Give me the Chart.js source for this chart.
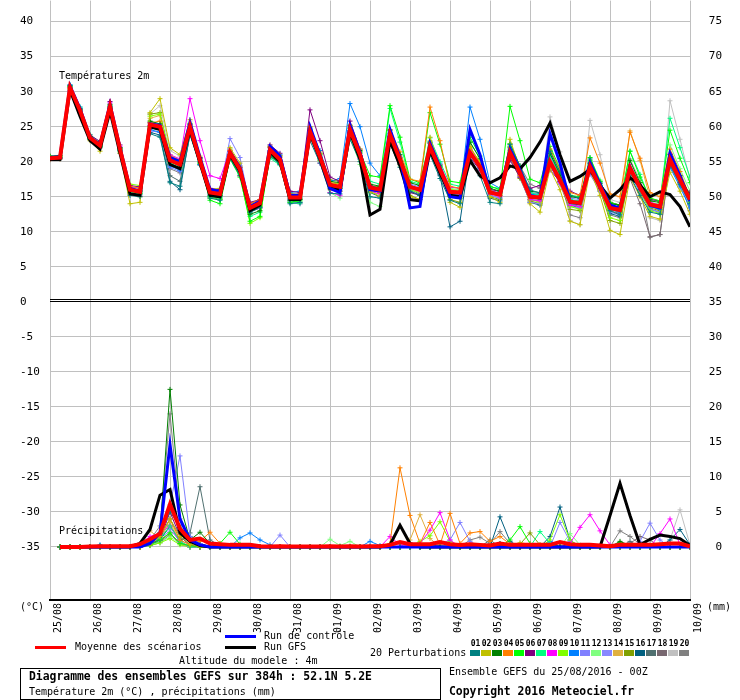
<!DOCTYPE html>
<html>
<head>
<meta charset="utf-8">
<script src="https://cdn.jsdelivr.net/npm/chart.js@4.4.1/dist/chart.umd.min.js"></script>
<style>
  body { margin: 0; background: #fff; }
  #wrap { position: relative; width: 740px; height: 700px; overflow: hidden; font-family: "DejaVu Sans Mono", monospace; color: #000; }
  #wrap canvas { position: absolute; left: 0; top: -6px; }
  .t { position: absolute; font-size: 10px; line-height: 12px; white-space: nowrap; }
  .b { font-weight: bold; font-size: 11.4px; line-height: 13px; }
  .ln { position: absolute; height: 3px; width: 31px; }
  #box { position: absolute; left: 20px; top: 668px; width: 419px; height: 30px; border: 1px solid #000; }
  #swatches { position: absolute; left: 470px; top: 639px; display: flex; }
  #swatches div { width: 11px; text-align: center; font-size: 8px; line-height: 10px; font-weight: bold; }
  #swatches span { display: block; width: 10px; height: 6px; margin-top: 1px; }
</style>
</head>
<body>
<div id="wrap">
  <canvas id="ensChart" width="740" height="706"></canvas>
  <div class="t" style="left:59px;top:70px">Températures 2m</div>
  <div class="t" style="left:59px;top:525px">Précipitations</div>
  <div class="t" style="left:20px;top:601px">(°C)</div>
  <div class="t" style="left:707px;top:601px">(mm)</div>
  <div class="ln" style="left:35px;top:646px;background:#ff0000"></div>
  <div class="t" style="left:75px;top:641px">Moyenne des scénarios</div>
  <div class="ln" style="left:225px;top:635px;background:#0000ff"></div>
  <div class="t" style="left:264px;top:630px">Run de contrôle</div>
  <div class="ln" style="left:225px;top:646px;background:#000000"></div>
  <div class="t" style="left:264px;top:641px">Run GFS</div>
  <div class="t" style="left:179px;top:655px">Altitude du modele : 4m</div>
  <div class="t" style="left:370px;top:647px">20 Perturbations</div>
  <div id="swatches"></div>
  <div id="box"></div>
  <div class="t b" style="left:29px;top:670px">Diagramme des ensembles GEFS sur 384h : 52.1N 5.2E</div>
  <div class="t" style="left:29px;top:686px">Température 2m (°C) , précipitations (mm)</div>
  <div class="t" style="left:449px;top:666px">Ensemble GEFS du 25/08/2016 - 00Z</div>
  <div class="t b" style="left:449px;top:685px">Copyright 2016 Meteociel.fr</div>
</div>
<script>
// time axis (hours since 25/08 00Z) and day labels
var tempHours = [0,6,12,18,24,30,36,42,48,54,60,66,72,78,84,90,96,102,108,114,120,126,132,138,144,150,156,162,168,174,180,186,192,198,204,210,216,222,228,234,240,246,252,258,264,270,276,282,288,294,300,306,312,318,324,330,336,342,348,354,360,366,372,378,384];
var rainHours = tempHours.slice(1);
var dayHours = [0,24,48,72,96,120,144,168,192,216,240,264,288,312,336,360,384];
var dayLabels = ['25/08','26/08','27/08','28/08','29/08','30/08','31/08','01/09','02/09','03/09','04/09','05/09','06/09','07/09','08/09','09/09','10/09'];
var leftTicks = [-35,-30,-25,-20,-15,-10,-5,0,5,10,15,20,25,30,35,40];
var rightTicks = [0,5,10,15,20,25,30,35,40,45,50,55,60,65,70,75];

var pertNames = ['01','02','03','04','05','06','07','08','09','10','11','12','13','14','15','16','17','18','19','20'];
var pertColors = ['#008080','#c0c000','#008000','#ff8000','#00ff00','#800080','#00ff80','#ff00ff','#80ff00','#0080ff',
                  '#8080ff','#80ff80','#8888ff','#e0b040','#80a000','#006080','#507070','#786870','#c0c0c0','#808080'];

// 2m temperature (°C), every 6h
var tempMean = [20.5,20.6,30.6,27.3,23.4,22.3,27.9,21.8, 16.0,15.7,25.3,25.0,20.2,19.6,25.0,20.2, 15.6,15.4,21.3,18.9,13.4,14.1,21.7,20.3,
  14.9,14.9,24.3,20.7,16.7,16.4,24.6,21.0, 16.3,16.0,23.9,20.3,16.4,16.0,22.1,18.9, 15.7,15.6,21.3,19.3,15.6,15.3,21.3,18.4,
  15.0,14.9,20.0,17.4,14.3,14.1,19.3,16.4, 13.4,13.1,19.1,16.3,13.9,13.6,20.3,17.4, 14.6];
var tempControl = [20.6,20.7,30.8,27.6,23.5,22.4,28.2,22.0, 16.2,15.8,25.4,25.2,20.6,20.0,25.6,20.6, 16.0,15.8,21.4,19.2,13.6,14.4,22.2,20.8,
  15.2,15.2,25.0,21.0,16.2,15.6,25.2,21.4, 16.0,15.8,24.6,20.6,13.4,13.6,22.6,19.2, 15.0,14.8,24.6,21.0,15.6,15.4,21.8,18.8,
  15.2,14.8,24.0,19.8,14.2,14.0,19.8,16.8, 13.8,13.4,19.2,16.2,13.8,13.4,21.2,18.0, 14.4];
var tempGfs = [20.3,20.3,30.2,26.5,23.0,21.8,27.2,21.2, 15.4,15.2,25.0,24.6,19.6,19.0,24.6,19.8, 15.2,15.0,21.0,18.6,13.0,13.8,21.4,20.0,
  14.6,14.6,24.0,20.4,16.2,16.0,24.2,20.4, 12.4,13.2,23.0,19.4,14.6,14.4,21.6,18.4, 15.2,15.0,20.2,18.0,17.0,17.7,19.4,19.0,
  20.6,22.8,25.5,21.0,17.2,17.9,18.9,16.6, 14.8,16.0,17.7,16.7,15.0,15.7,15.3,13.6, 10.7];

var temp01 = [20.4,20.5,30.9,27.6,23.2,22.0,27.5,21.5, 15.2,15.0,24.0,23.5,17.0,16.5,23.8,19.5, 14.8,14.5,20.5,18.0,12.8,13.5,20.8,19.6,
  14.0,14.2,23.0,19.8,15.5,15.4,23.2,20.0, 15.0,14.8,22.6,19.2,15.8,15.2,21.0,17.6, 14.5,14.0,20.2,18.0,14.2,14.0,22.5,19.4,
  16.0,15.5,21.5,18.5,15.2,14.8,20.4,17.0, 13.0,12.4,18.0,15.2,12.8,12.5,19.5,16.8, 14.0];
var temp02 = [20.6,20.7,30.4,27.0,23.0,21.5,27.0,21.2, 14.0,14.2,27.0,29.0,22.0,21.0,26.0,20.8, 16.0,16.2,22.0,19.8,13.0,13.8,22.2,20.9,
  15.5,15.2,25.0,21.2,17.0,16.8,25.2,21.8, 15.8,15.0,24.5,20.6,15.0,14.6,23.5,19.2, 14.2,13.5,22.0,20.0,15.0,14.2,23.2,19.0,
  14.0,12.8,19.0,16.0,11.5,11.0,18.8,15.2, 10.2,9.6,17.8,15.0,12.2,11.8,18.5,15.8, 12.5];
var temp03 = [20.8,20.9,30.8,27.5,23.6,22.6,28.2,22.0, 16.2,15.8,25.8,25.4,20.5,19.8,25.4,20.5, 15.8,15.2,21.0,18.6,12.5,13.0,21.0,19.8,
  14.5,14.6,24.8,21.2,17.2,17.0,25.2,21.6, 16.8,16.5,24.5,21.0,17.0,16.6,22.8,19.4, 15.0,14.8,22.8,20.4,16.2,15.8,22.0,19.0,
  15.8,15.6,21.2,18.2,15.0,14.8,19.8,16.9, 14.0,13.8,20.2,17.0,14.4,14.2,21.0,18.0, 15.2];
var temp04 = [20.3,20.4,30.5,27.2,23.5,22.4,27.8,21.9, 16.5,16.2,25.5,25.8,20.8,20.2,25.2,20.4, 15.9,15.8,21.6,19.2,14.0,14.6,22.0,20.6,
  15.2,15.4,23.8,20.2,16.0,15.8,24.0,20.6, 16.0,15.6,24.6,21.4,17.5,17.2,27.8,23.0, 16.5,16.2,22.2,19.8,15.8,15.2,21.0,18.0,
  15.2,15.0,21.8,18.8,15.6,15.2,23.4,19.8, 15.4,15.0,24.2,20.5,15.6,15.0,21.8,18.6, 15.0];
var temp05 = [20.7,20.8,30.7,27.4,23.3,22.2,27.7,21.7, 15.8,15.5,25.0,24.8,20.0,19.4,24.6,19.8, 14.5,14.0,20.4,17.8,11.5,12.2,20.8,19.8,
  14.2,14.4,24.0,20.5,16.5,16.2,24.8,21.4, 18.0,17.8,28.0,23.5,17.5,17.0,27.0,22.5, 17.2,17.0,23.5,20.8,16.5,16.0,27.9,23.0,
  17.5,17.0,22.2,19.0,15.2,15.0,20.6,17.2, 14.2,13.8,21.5,17.8,14.8,14.4,24.5,20.5, 17.0];
var temp06 = [20.5,20.6,30.2,27.0,23.8,22.9,28.6,22.4, 16.6,16.4,25.6,25.2,20.6,20.0,25.3,20.6, 16.2,16.0,21.5,19.2,14.2,14.6,22.4,21.2,
  15.8,15.6,27.4,23.0,17.8,17.2,25.8,21.8, 16.6,16.2,23.2,19.6,15.6,15.2,21.4,18.2, 15.2,15.0,20.6,18.8,16.0,15.8,20.2,17.8,
  16.2,16.6,18.8,17.2,15.8,15.2,18.5,16.2, 14.2,13.8,18.6,16.0,14.6,14.4,19.8,17.0, 15.6];
var temp07 = [20.6,20.7,30.9,27.8,23.9,22.7,28.0,22.0, 15.6,15.4,24.8,24.6,19.8,19.2,24.8,20.0, 15.0,14.8,20.8,18.2,12.2,12.8,20.5,19.5,
  14.2,14.0,23.5,20.2,16.8,16.6,24.5,21.2, 17.2,16.8,27.6,22.8,17.2,16.8,23.4,20.0, 16.8,16.5,22.8,20.5,16.4,16.2,22.2,19.0,
  15.6,15.2,21.0,18.0,14.6,14.4,20.2,17.2, 14.0,13.8,21.5,18.2,14.6,14.4,26.2,22.0, 17.8];
var temp08 = [20.4,20.5,30.6,27.4,23.6,22.5,28.4,22.2, 16.4,16.2,25.2,24.8,21.0,20.4,29.0,23.0, 18.0,17.6,21.6,18.0,13.0,13.4,21.0,19.6,
  14.2,14.0,23.6,19.8,15.6,15.2,24.2,20.5, 15.8,15.4,23.6,20.0,16.2,15.8,22.6,19.6, 16.4,16.2,21.8,19.6,15.4,15.0,21.0,18.2,
  14.6,14.4,19.8,17.0,13.8,13.6,19.0,16.4, 13.8,13.4,19.6,16.8,14.2,13.8,21.2,18.0, 15.0];
var temp09 = [20.5,20.6,30.7,27.5,23.2,22.0,27.6,21.4, 16.8,16.6,26.5,26.8,21.0,20.2,25.5,20.4, 14.8,14.6,20.6,18.0,11.2,12.0,21.2,20.0,
  15.0,14.8,24.6,21.0,16.8,16.4,24.2,20.8, 15.6,15.4,23.0,19.6,16.0,15.6,22.6,19.6, 16.0,15.8,22.0,19.8,15.8,15.4,22.6,19.4,
  14.6,14.2,21.6,18.6,13.6,13.2,19.6,16.4, 12.0,11.6,18.6,15.8,13.0,12.6,20.0,17.2, 14.2];
var temp10 = [20.6,20.8,31.0,27.8,23.6,22.4,27.9,21.9, 16.0,15.8,24.6,24.2,19.4,18.8,24.0,19.6, 15.2,15.0,21.0,18.6,13.2,14.0,22.0,21.0,
  15.6,15.8,24.6,21.6,17.2,17.6,28.3,25.0, 19.8,18.0,24.0,20.6,16.6,16.2,22.8,19.8, 15.4,15.2,27.8,23.2,17.0,16.2,22.5,19.2,
  15.4,15.2,21.0,18.2,14.6,14.2,19.8,16.8, 13.2,12.8,18.8,16.0,13.6,13.2,19.2,16.4, 13.4];
var temp11 = [20.4,20.5,30.8,27.6,23.2,22.0,27.3,21.2, 15.4,15.2,24.4,24.2,19.2,18.6,24.6,20.0, 16.2,16.0,23.3,20.6,13.8,14.2,21.4,19.8,
  14.6,14.8,24.0,20.4,16.4,16.0,23.8,20.4, 16.0,15.8,24.2,20.8,16.8,16.4,22.0,18.8, 15.8,15.6,20.8,19.0,15.8,15.6,21.8,18.8,
  15.6,15.4,20.6,18.0,14.8,14.6,18.2,15.8, 13.6,13.2,18.6,15.8,14.0,13.8,21.0,18.0, 14.8];
var temp12 = [20.6,20.7,30.3,27.1,23.4,22.3,28.1,22.0, 15.8,15.4,25.0,24.6,19.8,19.0,24.4,19.8, 15.0,14.8,21.0,18.8,13.0,13.6,21.2,19.8,
  14.4,14.6,23.8,20.0,15.6,14.8,23.6,19.6, 14.2,13.6,22.6,19.4,16.0,15.6,22.6,19.4, 16.2,16.0,21.6,19.6,15.6,15.4,21.6,18.6,
  15.6,15.4,20.4,17.6,14.0,13.8,20.6,17.4, 13.6,13.4,20.0,17.0,14.2,14.0,22.4,19.0, 15.8];
var temp13 = [20.5,20.6,30.4,27.2,23.3,22.2,27.8,21.8, 16.2,15.9,25.4,25.2,20.4,19.8,25.2,20.4, 15.4,15.2,21.2,18.8,13.6,14.2,21.6,20.2,
  15.0,15.0,24.2,20.6,16.6,16.2,24.4,20.8, 16.2,15.8,23.8,20.2,16.2,15.8,21.6,18.4, 15.4,15.2,21.0,19.0,15.2,14.8,20.8,17.8,
  14.2,14.0,19.4,16.8,13.6,13.4,18.6,15.8, 12.8,12.4,18.4,15.6,13.2,12.8,19.4,16.6, 13.8];
var temp14 = [20.4,20.6,30.5,27.4,23.5,22.4,28.0,22.0, 16.0,15.8,26.2,26.6,20.8,20.0,25.0,20.2, 15.6,15.6,21.4,19.0,13.6,14.4,22.0,20.8,
  15.4,15.4,25.0,21.4,17.2,16.8,24.8,21.2, 16.4,16.0,24.0,20.4,16.4,16.2,23.0,19.6, 16.0,16.0,21.6,19.4,15.6,15.4,21.6,18.8,
  15.4,15.2,20.6,17.8,14.4,14.2,20.2,17.2, 14.2,13.8,24.4,20.2,14.8,14.4,19.8,17.0, 14.4];
var temp15 = [20.5,20.5,30.6,27.2,23.3,22.2,27.8,21.8, 15.4,15.0,26.8,27.0,20.6,19.8,24.6,19.8, 15.2,15.0,21.8,19.4,14.0,14.6,22.2,20.8,
  15.2,15.0,24.4,21.0,17.4,17.2,24.8,21.4, 16.6,16.4,23.2,19.8,15.2,14.6,21.6,18.6, 14.6,14.2,21.2,19.4,15.0,14.6,20.6,17.6,
  14.4,14.0,19.6,16.8,13.2,13.0,18.8,16.0, 11.6,11.2,18.6,15.8,13.4,13.0,19.6,16.8, 14.0];
var temp16 = [20.3,20.4,30.6,27.4,23.4,22.2,27.6,21.6, 15.6,15.4,24.2,23.8,17.2,16.0,24.0,19.6, 15.0,14.6,20.8,18.4,12.8,13.4,21.2,19.8,
  14.4,14.2,24.0,20.4,16.2,15.8,24.0,20.4, 15.6,15.0,23.4,19.8,15.8,15.2,21.4,18.0, 10.7,11.5,21.2,19.0,14.8,14.4,20.8,18.0,
  14.2,13.8,19.6,17.0,13.8,13.4,18.8,15.8, 12.6,12.2,18.4,15.6,13.2,12.8,20.2,17.2, 14.2];
var temp17 = [20.5,20.6,30.5,27.3,23.4,22.3,27.9,21.8, 15.8,15.6,25.0,24.6,18.0,17.2,24.4,20.0, 15.4,15.2,21.0,18.6,13.2,14.0,21.4,20.0,
  14.8,14.8,24.2,20.6,16.6,16.2,24.2,20.6, 16.0,15.6,23.4,19.8,16.0,15.4,21.6,18.4, 15.4,15.2,21.0,19.0,15.2,14.8,20.6,17.8,
  14.6,14.4,19.8,17.2,14.0,13.8,19.0,16.2, 13.2,12.8,18.8,16.0,13.6,13.2,20.0,17.2, 14.4];
var temp18 = [20.6,20.6,30.6,27.3,23.3,22.2,27.8,21.8, 16.0,15.8,25.2,24.9,20.0,19.4,24.8,20.0, 15.4,15.2,21.2,18.8,13.2,14.0,21.6,20.2,
  14.8,14.8,24.2,20.6,16.6,16.4,24.4,20.8, 16.2,15.8,23.6,20.0,16.2,15.8,22.0,18.8, 15.6,15.4,21.2,19.2,15.4,15.2,21.2,18.2,
  14.8,14.6,19.8,17.2,14.0,13.6,18.8,16.0, 13.0,12.6,17.6,14.0,9.3,9.6,20.4,17.6, 14.8];
var temp19 = [20.5,20.5,30.4,27.1,23.2,22.1,27.7,21.7, 15.6,15.4,26.8,28.0,21.6,20.8,25.8,20.6, 15.6,15.4,21.0,18.6,13.2,13.8,21.4,20.0,
  14.8,14.6,24.0,20.6,16.4,16.2,24.4,20.8, 16.0,15.6,23.6,20.0,16.0,15.6,22.4,19.2, 15.8,15.6,21.8,19.8,15.6,15.2,22.4,19.2,
  14.4,14.0,26.4,21.4,11.6,11.0,25.9,21.0, 14.6,14.2,20.4,17.4,12.0,11.6,28.7,23.2, 17.4];
var temp20 = [20.4,20.5,30.6,27.4,23.3,22.2,27.9,21.9, 16.2,16.0,25.2,24.6,19.0,18.4,24.6,20.0, 15.0,14.8,21.0,18.6,13.0,13.6,21.4,20.0,
  14.6,14.6,24.4,20.8,16.6,16.2,24.4,20.6, 16.0,15.6,23.6,20.0,16.4,16.0,22.2,18.8, 16.4,16.2,21.4,19.2,15.4,15.2,22.2,19.4,
  16.8,16.2,20.6,17.6,12.4,12.0,19.8,16.4, 12.4,12.0,19.6,16.4,9.2,9.6,20.0,17.2, 13.0];

// 6h precipitation (mm), from +6h to +384h
var rainMean = [0,0,0,0.05,0.1,0.1,0.1,0.1, 0.4,1.1,1.9,6.1,2.6,1.0,1.2,0.5, 0.4,0.3,0.3,0.3,0.1,0.05,0.1,0.05,
  0.05,0.05,0.05,0.1,0.05,0.1,0.05,0.1, 0.1,0.3,0.7,0.4,0.4,0.4,0.7,0.4, 0.3,0.4,0.3,0.2,0.5,0.3,0.3,0.3,
  0.3,0.3,0.7,0.4,0.3,0.3,0.2,0.1, 0.3,0.3,0.3,0.3,0.4,0.5,0.5,0.1];
var rainControl = [0,0,0,0,0,0,0,0, 0,0.5,2.0,14.6,4.0,1.0,0.3,0, 0,0,0,0,0,0,0,0, 0,0,0,0,0,0,0,0,
  0,0,0,0,0,0,0,0, 0,0,0,0,0,0,0,0, 0,0,0,0,0,0,0,0, 0,0,0,0,0,0,0,0];
var rainGfs = [0,0,0,0,0,0,0,0, 0.5,2.5,7.4,8.2,2.0,0.8,0.2,0, 0,0,0,0,0,0,0,0, 0,0,0,0,0,0,0,0,
  0,0.3,3.1,0.5,0,0,0,0, 0,0,0,0,0,0,0,0, 0,0,0,0,0,0,0,4.5, 9.1,4.5,0.3,1.1,1.7,1.5,1.2,0.2];

var rain01 = [0,0,0,0,0.2,0,0,0, 0.3,0.8,2.0,5.0,3.0,1.0,0.3,0, 0,0,0,0,0,0,0,0, 0,0,0,0,0,0,0,0,
  0,0,0,0,0,0,0,0, 0,0,0,0,0.5,0,0,0, 0,0,0,0,0,0,0,0, 0,0,0,0,0,0,0,0];
var rain02 = [0,0,0,0,0,0,0,0, 0,0.5,1.5,4.0,1.5,0.4,0,0, 0,0,0,0,0,0,0,0, 0,0,0,0,0,0,0,0,
  0,0,0,0,0,0,0,0, 0,0,0,0,0,0,0.6,0.4, 0.3,0,0,0,0,0,0,0, 0,0,0,0,0,0,0,0];
var rain03 = [0,0,0,0,0,0,0,0, 0.2,0.6,2.0,22.5,6.0,1.0,2.1,0.5, 0,0,0,0,0,0,0,0, 0,0,0,0,0,0,0,0,
  0,0,0,0,0,0,0,0, 0,0,0,0,0,0,0,0, 0,0,0,0,0,0,0,0, 0.8,0.2,0,0,0,0,0,0];
var rain04 = [0,0,0,0,0,0,0,0, 0,0.4,1.5,4.0,1.0,0.3,0.8,2.1, 0.5,0,0,0,0,0,0,0, 0,0,0,0,0,0,0,0,
  0,0.5,11.3,4.5,0.5,3.5,0.3,4.8, 0.5,2.0,2.2,0.8,1.5,0.4,0,0, 0,0,0,0,0,0,0,0, 0,0,0.3,0,0,0,0,0];
var rain05 = [0,0,0,0,0,0,0,0, 0,0.3,1.0,2.0,0.5,0.2,0,0, 0.5,2.1,0.4,0,0,0,0,0, 0,0,0,0,0,0,0,0,
  0,0,0,0,0,0,0,0, 0,0,0,0,0,1.0,2.9,0.5, 0,0,0,0,0,0,0,0, 0,0,0,0,0,0,0,0];
var rain06 = [0,0,0,0,0,0,0,0, 0,0.5,1.0,5.0,1.5,0.3,0,0, 0,0,0,0,0,0,0,0, 0,0,0,0,0,0,0,0,
  0,0,0,0,0,0,0,0, 0,0,0,0,0,0,0,0, 0,0,0,0,0,0,0,0, 0,0,0,0,0,0,0,0];
var rain07 = [0,0,0,0,0,0,0,0, 0,0.4,1.2,3.0,0.8,0,0,0, 0,0,0,0,0,0,0,0, 0,0,0,0,0,0,0,0,
  0,0,0,0,0,0,0,0, 0,0,0,0,0,0,0,0, 2.2,0.5,0,0,0,0,0,0, 0,0,0,0,0,0,0,0];
var rain08 = [0,0,0,0,0,0,0,0, 0.4,1.5,2.0,3.0,0.6,0,0,0, 0,0,0,0,0,0,0,0, 0,0,0,0,0,0,0,0,
  0,1.5,0.3,0.2,0.5,2.4,4.9,1.0, 0,0,0,0,0,0,0,0, 0,0,0,0.5,2.8,4.6,2.3,0.3, 0,0,0,0,1.9,4.0,0.3,0];
var rain09 = [0,0,0,0,0,0,0,0, 0,0.2,0.6,1.2,0.3,0,0,0, 0,0,0,0,0,0,0,0, 0,0,0,0,0,0,0,0,
  0,0,0,0,0.8,1.6,3.6,0.8, 0,0,0,0,0.5,0,0,0, 0,1.0,4.6,1.0,0,0,0,0, 0,0,0,0,0,0,0,0];
var rain10 = [0,0,0,0,0.3,0,0,0, 0.2,0.8,1.5,4.0,1.5,0.3,0,0, 0,0,1.3,2.0,1.0,0.3,0,0, 0,0,0,0,0,0,0,0.8,
  0.2,0,0,0,0,0,0,0, 0,0,0,0,0,0,0,0, 0,0.8,0,0,0,0,0,0, 0,0,0,0,0,0,0,0];
var rain11 = [0,0,0,0,0,0,0,0, 0,0.4,1.5,6.0,13.0,1.5,0.5,0, 0,0,0,0,0,0,1.7,0, 0,0,0,0,0,0,0,0,
  0,0,0,0,0,0,0.4,1.0, 3.5,0.8,0,0,0,0,0,0, 0,0,3.5,0.8,0,0,0,0, 0,0,0.8,3.4,1.0,0,0,0];
var rain12 = [0,0,0,0,0,0,0,0, 0,0.3,0.6,1.5,0.4,0,0,0, 0,0,0,0,0,0,0,0, 0,0,0,1.1,0.2,0.8,0,0,
  0,0,0,0,0,0,0,0, 0,0,0,0,0,0,0,0, 0,0,0,1.9,0.3,0,0,0, 0,0,0,0,0,0,0,0];
var rain13 = [0,0,0,0,0,0,0,0, 0,0.2,0.8,2.5,0.8,0,0,0, 0,0,0,0,0,0,0,0, 0,0,0,0,0,0,0,0,
  0,0,0,0,0,0,0,0, 0,0,0,0,0,0,0,0, 0,0,0,0,0,0,0,0, 0,0,0,0,0,0,0,0];
var rain14 = [0,0,0,0,0,0,0,0, 0.5,2.3,1.2,3.5,0.8,0,0,0, 0,0,0,0,0,0,0,0, 0,0,0,0,0,0,0,0,
  0,0,0,1.0,4.6,1.2,0,0, 0,0,0,0,0,0,0,0, 0,0,0,0,0,0,0,0, 0,0,0,0,0,0,0,0];
var rain15 = [0,0,0,0,0,0,0,0, 0,0.3,0.8,2.0,0.5,0,0,0, 0,0,0,0,0,0,0,0, 0,0,0,0,0,0,0,0,
  0,0,0,0,0,0,0,0, 0,0,0,0,0,0,0.4,2.0, 0.3,0,0,0,0,0,0,0, 0.6,0,0,0,0,0,0,0];
var rain16 = [0,0,0,0,0,0,0,0, 0,0.3,1.0,3.0,1.0,1.5,0.5,0, 0,0,0,0,0,0,0,0, 0,0,0,0,0,0,0,0,
  0,0,0,0,0,0,0,0, 0,0,0,0,4.3,0.8,0,0, 0,1.5,5.7,1.0,0,0,0,0, 0,0,0,0,0,1.0,2.5,0.3];
var rain17 = [0,0,0,0,0,0,0,0, 0,0.3,1.0,3.0,1.0,2.0,8.6,1.0, 0.2,0,0,0,0,0,0,0, 0,0,0,0,0,0,0,0,
  0,0,0,0,0,0,0,0, 0,0,0,1.0,0,0,0,0, 0,0,0,0,0,0,0,0, 0,0.8,0,0,0,0,0,0];
var rain18 = [0,0,0,0,0,0,0,0, 0,0.2,0.6,1.8,0.5,0,0,0, 0,0,0,0,0,0,0,0, 0,0,0,0,0,0,0,0,
  0,0,0,0,0,0,0,0, 0,0,0,0,0,0,0,0, 0,0,0,0,0,0,0,0, 0,0.5,1.5,1.0,0,0,0,0];
var rain19 = [0,0,0,0,0,0,0,0, 0,0.3,1.0,4.0,1.0,0.2,0,0, 0,0,0,0,0,0,0,0, 0,0,0,0,0,0,0,0,
  0,0,0,0,0,0,0,0, 0,0,0,0,0,0,0,0, 0,0,0,0,0,0,0,0, 0,0,0,0,0,1.0,5.3,0.3];
var rain20 = [0,0,0,0,0,0,0,0, 0.2,1.0,3.0,19.0,4.0,1.0,0.3,0, 0,0,0,0,0,0,0,0, 0,0,0,0,0,0,0,0,
  0,0,0,0,0,0,0,0, 0,1.0,1.4,0.5,2.2,0.5,0,0, 0,0,0,0,0,0,0,0, 2.3,1.5,0.4,0,0,0,0,0];

var pertTemp = [temp01,temp02,temp03,temp04,temp05,temp06,temp07,temp08,temp09,temp10,
                temp11,temp12,temp13,temp14,temp15,temp16,temp17,temp18,temp19,temp20];
var pertRain = [rain01,rain02,rain03,rain04,rain05,rain06,rain07,rain08,rain09,rain10,
                rain11,rain12,rain13,rain14,rain15,rain16,rain17,rain18,rain19,rain20];

// legend swatches under the chart
var sw = document.getElementById('swatches');
pertNames.forEach(function (n, i) {
    var d = document.createElement('div');
    d.innerHTML = n + '<span style="background:' + pertColors[i] + '"></span>';
    sw.appendChild(d);
});

function pts(hours, values) {
    return values.map(function (v, i) { return { x: hours[i], y: v }; });
}

function series(hours, values, color, width, axis, order) {
    return {
        data: pts(hours, values),
        yAxisID: axis,
        borderColor: color,
        backgroundColor: color,
        borderWidth: width,
        pointStyle: 'cross',
        pointRadius: width > 1 ? 0 : 2.5,
        pointBorderColor: color,
        pointBorderWidth: 1,
        fill: false,
        tension: 0,
        order: order
    };
}

var datasets = [];
datasets.push(series(tempHours, tempMean, '#ff0000', 4, 'y', 0));
datasets.push(series(rainHours, rainMean, '#ff0000', 4, 'y2', 0));
datasets.push(series(tempHours, tempControl, '#0000ff', 3, 'y', 1));
datasets.push(series(rainHours, rainControl, '#0000ff', 3, 'y2', 1));
datasets.push(series(tempHours, tempGfs, '#000000', 3, 'y', 2));
datasets.push(series(rainHours, rainGfs, '#000000', 3, 'y2', 2));
for (var i = 0; i < pertTemp.length; i++) {
    datasets.push(series(tempHours, pertTemp[i], pertColors[i], 1, 'y', 3 + i));
    datasets.push(series(rainHours, pertRain[i], pertColors[i], 1, 'y2', 3 + i));
}

// second black line just above the 0 °C grid line
var zeroLine = {
    id: 'zeroLine',
    beforeDatasetsDraw: function (chart) {
        var ctx = chart.ctx, area = chart.chartArea;
        var y = Math.round(chart.scales.y.getPixelForValue(0)) - 2.5;
        ctx.save();
        ctx.strokeStyle = '#000';
        ctx.lineWidth = 1;
        ctx.beginPath();
        ctx.moveTo(area.left, y);
        ctx.lineTo(area.right, y);
        ctx.stroke();
        ctx.restore();
    }
};

Chart.defaults.font.family = '"DejaVu Sans Mono", monospace';
Chart.defaults.color = '#000';

new Chart(document.getElementById('ensChart'), {
    type: 'line',
    data: { datasets: datasets },
    plugins: [zeroLine],
    options: {
        responsive: false,
        animation: false,
        devicePixelRatio: 1,
        events: [],
        layout: { padding: { left: 20, top: 1, right: 18, bottom: 0 } },
        plugins: { legend: { display: false }, tooltip: { enabled: false } },
        scales: {
            x: {
                type: 'linear',
                min: 0,
                max: 384,
                afterBuildTicks: function (s) { s.ticks = dayHours.map(function (h) { return { value: h }; }); },
                afterFit: function (s) { s.height = 100; },
                grid: { color: '#c0c0c0', drawTicks: false },
                border: { display: true, color: '#000', width: 2 },
                ticks: {
                    autoSkip: false,
                    minRotation: 90,
                    maxRotation: 90,
                    labelOffset: 8,
                    padding: 3,
                    font: { size: 10 },
                    callback: function (v, i) { return dayLabels[i]; }
                }
            },
            y: {
                position: 'left',
                min: -42.57,
                max: 43,
                afterBuildTicks: function (s) { s.ticks = leftTicks.map(function (v) { return { value: v }; }); },
                afterFit: function (s) { s.width = 30; },
                grid: {
                    drawTicks: false,
                    color: function (c) { return c.tick && c.tick.value === 0 ? '#000' : '#c0c0c0'; }
                },
                border: { display: false },
                ticks: { crossAlign: 'far', padding: 0, font: { size: 11 } }
            },
            y2: {
                position: 'right',
                min: -7.57,
                max: 78,
                afterBuildTicks: function (s) { s.ticks = rightTicks.map(function (v) { return { value: v }; }); },
                afterFit: function (s) { s.width = 32; },
                grid: { display: false, drawTicks: false },
                border: { display: false },
                ticks: { crossAlign: 'far', padding: 0, font: { size: 11 } }
            }
        }
    }
});
</script>
</body>
</html>
